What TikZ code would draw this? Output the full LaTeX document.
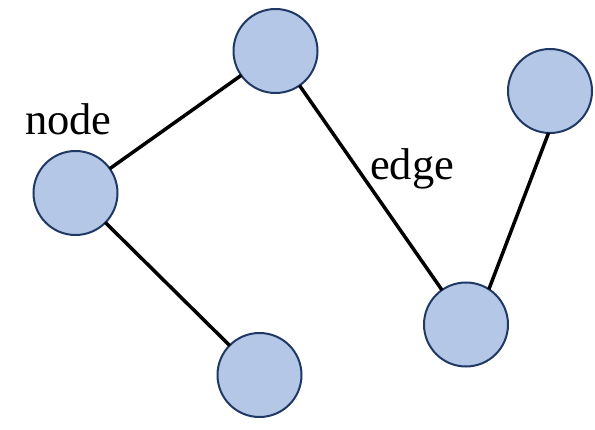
\documentclass[tikz,border=0pt]{standalone}
\usepackage{fontspec}
\setmainfont{Liberation Serif}
\definecolor{vfill}{HTML}{B4C7E7}
\definecolor{vline}{HTML}{1F3864}
\begin{document}
\begin{tikzpicture}[x=1pt,y=-1pt,
  vertex/.style={circle,draw=vline,fill=vfill,line width=2pt,minimum size=84pt,inner sep=0pt,outer sep=0pt},
  link/.style={line width=3.5pt,black},
  lbl/.style={font=\fontsize{44.5}{50}\selectfont,inner sep=0pt,anchor=base west}]
\useasboundingbox (0,0) rectangle (595,430);
\node[vertex] (a) at (75.5,193) {};
\node[vertex] (b) at (275.5,51) {};
\node[vertex] (c) at (550,91) {};
\node[vertex] (d) at (466,324.5) {};
\node[vertex] (e) at (259.5,375) {};
\draw[link] (a) -- (b);
\draw[link] (a) -- (e);
\draw[link] (b) -- (d);
\draw[link] (d.57) -- (c.268);
\node[lbl] (nodelbl) at (25,135) {node};
\node[lbl] (edgelbl) at (370,180) {edge};
\end{tikzpicture}
\end{document}
